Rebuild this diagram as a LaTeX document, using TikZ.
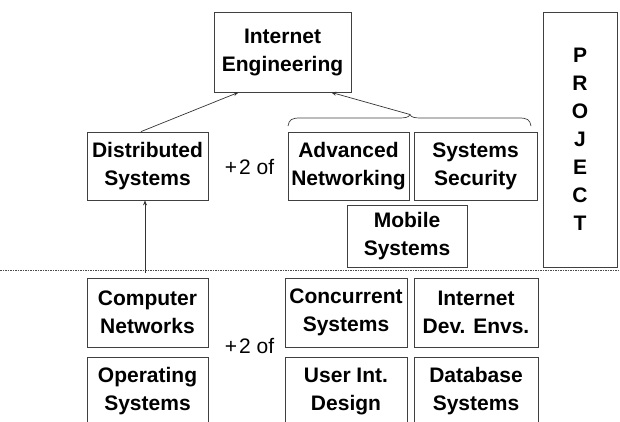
\documentclass[tikz,border=0pt]{standalone}
\usepackage{fontspec}
\setmainfont{Liberation Sans}
\usetikzlibrary{arrows.meta,calc}
\begin{document}
\begin{tikzpicture}[x=1pt,y=-1pt,
  box/.style={draw=black!75, line width=0.8pt, inner sep=0pt, align=center,
    text=black, font=\bfseries\fontsize{21}{28}\selectfont},
  plus/.style={inner sep=0pt, font=\fontsize{21}{25}\selectfont},
  arr/.style={draw=black!80, line width=0.7pt, -{Stealth[length=5pt,width=4pt]}},
  thin line/.style={draw=black!75, line width=0.7pt},
]
\useasboundingbox (0,0) rectangle (620,421);
% upper level
\node[box, minimum width=137pt, minimum height=80pt] (ie) at (282.5,52) {Internet\\Engineering};
\node[box, minimum width=121pt, minimum height=68pt] (ds) at (147.5,166) {Distributed\\Systems};
\node[box, minimum width=121pt, minimum height=68pt] (an) at (348.5,166) {Advanced\\Networking};
\node[box, minimum width=123pt, minimum height=68pt] (ss) at (475.5,166) {Systems\\Security};
\node[box, minimum width=120pt, minimum height=62pt] (ms) at (407,236) {Mobile\\Systems};
\node[box, minimum width=74pt, minimum height=255pt] (proj) at (580,139.5) {P\\R\\O\\J\\E\\C\\T};
\node[plus] (p1) at (249.5,167) {+\kern2pt2 of};
% lower level
\node[box, minimum width=121pt, minimum height=69pt] (cn) at (147.5,312.5) {Computer\\Networks};
\node[box, minimum width=121pt, minimum height=69pt] (os) at (147.5,391.5) {Operating\\Systems};
\node[box, minimum width=122pt, minimum height=69pt] (cs) at (346,312.5) {Concurrent\\Systems};
\node[box, minimum width=124pt, minimum height=69pt] (id) at (476,312.5) {Internet\\Dev. Envs.};
\node[box, minimum width=122pt, minimum height=69pt] (ui) at (346,391.5) {User Int.\\Design};
\node[box, minimum width=124pt, minimum height=69pt] (db) at (476,391.5) {Database\\Systems};
\node[plus] (p2) at (249.5,346) {+\kern2pt2 of};
% divider
\coordinate (dl) at (0,270);
\coordinate (dr) at (620,270);
\draw[draw=black!70, line width=0.7pt, dash pattern=on 1.5pt off 1pt] (dl) -- (dr);
% brace
\coordinate (tip) at (410,114.5);
\draw[thin line] (288,126) .. controls (289,119.5) and (292,118) .. (300,118) -- (398,118)
  .. controls (405,118) and (409,117.5) .. (tip)
  .. controls (411,117.5) and (415,118) .. (422,118) -- (519,118)
  .. controls (527,118) and (530,119.5) .. (531,126);
% arrows
\coordinate (bot) at (145,273);
\draw[arr] ([xshift=-6.5pt]ds.north) -- ($(ie.south west)!0.18!(ie.south east)$);
\draw[arr] (tip) -- ($(ie.south west)!0.854!(ie.south east)$);
\draw[arr] (bot) -- (bot |- ds.south);
\end{tikzpicture}
\end{document}
